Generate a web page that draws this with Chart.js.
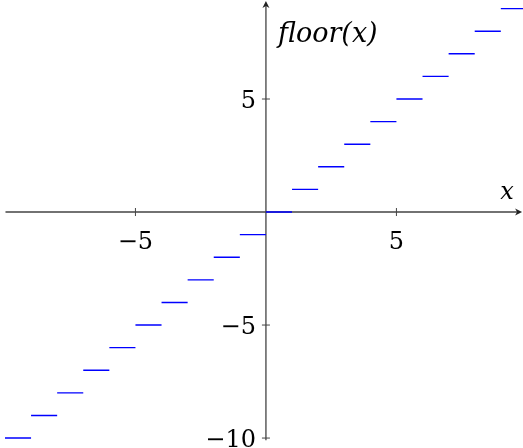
<!DOCTYPE html>
<html>
<head>
<meta charset="utf-8">
<script src="https://cdn.jsdelivr.net/npm/chart.js@4/dist/chart.umd.min.js"></script>
<style>
  html, body { margin: 0; padding: 0; background: #ffffff; }
  #wrap { width: 523px; height: 448px; }
</style>
</head>
<body>
<div id="wrap"><canvas id="chart"></canvas></div>
<script>
// Left end of each unit interval [k, k+1) and the value floor(x) takes on it
const stepStarts = [-10, -9, -8, -7, -6, -5, -4, -3, -2, -1, 0, 1, 2, 3, 4, 5, 6, 7, 8, 9];
const stepValues = [-10, -9, -8, -7, -6, -5, -4, -3, -2, -1, 0, 1, 2, 3, 4, 5, 6, 7, 8, 9];
const xTicks = [-5, 5];
const yTicks = [5, -5, -10];
const xLabel = 'x';
const yLabel = 'floor(x)';

// Horizontal pieces, separated by null points so the line breaks at each jump
const stepPoints = [];
stepStarts.forEach((s, i) => {
  stepPoints.push({ x: s, y: stepValues[i] });
  stepPoints.push({ x: s + 1, y: stepValues[i] });
  stepPoints.push({ x: s + 1, y: null });
});

const SERIF = "'DejaVu Serif', serif";
const fmt = v => (v < 0 ? '\u2212' + Math.abs(v) : String(v));

// Axes crossing at the origin, with arrow heads, ticks and labels
const originAxes = {
  id: 'originAxes',
  beforeDatasetsDraw(chart) {
    const { ctx, scales: { x, y } } = chart;
    const x0 = x.getPixelForValue(0);
    const y0 = y.getPixelForValue(0);
    const left = x.getPixelForValue(-9.98);
    const right = x.getPixelForValue(9.7);
    const top = y.getPixelForValue(9.2);
    const bottom = y.getPixelForValue(-10.1);
    ctx.save();
    ctx.strokeStyle = '#444';
    ctx.fillStyle = '#222';
    ctx.lineWidth = 1.3;
    ctx.beginPath();
    ctx.moveTo(left, y0); ctx.lineTo(right, y0);
    ctx.moveTo(x0, bottom); ctx.lineTo(x0, top);
    ctx.stroke();
    // arrow heads
    ctx.beginPath();
    ctx.moveTo(right + 3, y0);
    ctx.lineTo(right - 4, y0 - 3.5);
    ctx.lineTo(right - 2, y0);
    ctx.lineTo(right - 4, y0 + 3.5);
    ctx.closePath();
    ctx.fill();
    ctx.beginPath();
    ctx.moveTo(x0, top - 3);
    ctx.lineTo(x0 - 3.5, top + 4);
    ctx.lineTo(x0, top + 2);
    ctx.lineTo(x0 + 3.5, top + 4);
    ctx.closePath();
    ctx.fill();
    // tick marks
    ctx.lineWidth = 1;
    ctx.beginPath();
    xTicks.forEach(v => {
      const px = x.getPixelForValue(v);
      ctx.moveTo(px, y0 - 4); ctx.lineTo(px, y0 + 4);
    });
    yTicks.forEach(v => {
      const py = y.getPixelForValue(v);
      ctx.moveTo(x0 - 4, py); ctx.lineTo(x0 + 4, py);
    });
    ctx.stroke();
    // tick labels
    ctx.fillStyle = '#000';
    ctx.font = '24px ' + SERIF;
    ctx.textAlign = 'center';
    ctx.textBaseline = 'alphabetic';
    xTicks.forEach(v => {
      ctx.fillText(fmt(v), x.getPixelForValue(v), y0 + 37);
    });
    ctx.textAlign = 'right';
    yTicks.forEach(v => {
      ctx.fillText(fmt(v), x0 - 10, y.getPixelForValue(v) + 9);
    });
    // axis names
    ctx.font = 'italic 24px ' + SERIF;
    ctx.textAlign = 'center';
    ctx.fillText(xLabel, right - 12, y0 - 13);
    ctx.font = 'italic 27px ' + SERIF;
    ctx.textAlign = 'left';
    ctx.fillText(yLabel, x0 + 12, top + 38);
    ctx.restore();
  }
};

new Chart(document.getElementById('chart'), {
  type: 'line',
  data: {
    datasets: [{
      data: stepPoints,
      borderColor: '#0000ff',
      borderWidth: 1.4,
      pointRadius: 0,
      spanGaps: false,
      tension: 0
    }]
  },
  options: {
    responsive: true,
    maintainAspectRatio: false,
    animation: false,
    layout: { padding: 0 },
    plugins: { legend: { display: false }, tooltip: { enabled: false } },
    scales: {
      x: { type: 'linear', min: -10.19, max: 9.85, display: false },
      y: { type: 'linear', min: -10.44, max: 9.38, display: false }
    }
  },
  plugins: [originAxes]
});
</script>
</body>
</html>
